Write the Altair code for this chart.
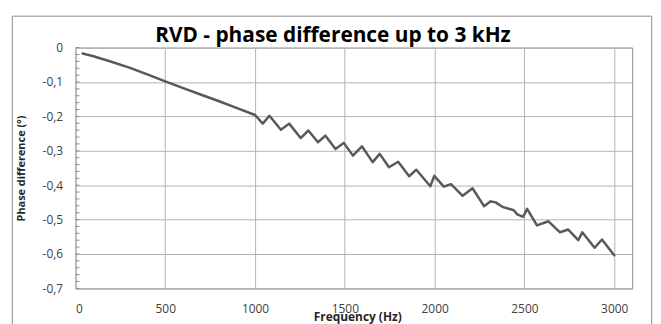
import altair as alt
import pandas as pd

# Frequency (Hz) and phase difference (degrees)
freq = [40, 100, 200, 300, 400, 500, 600, 700, 800, 900,
        1000, 1043, 1080, 1144, 1190, 1254, 1297, 1350, 1392, 1448,
        1494, 1545, 1595, 1655, 1694, 1746, 1797, 1858, 1898, 1976,
        1998, 2051, 2091, 2156, 2211, 2275, 2312, 2340, 2377, 2441,
        2460, 2493, 2515, 2570, 2634, 2698, 2744, 2800, 2822, 2891,
        2932, 3000]
phase = [-0.017, -0.025, -0.041, -0.058, -0.078, -0.098, -0.118, -0.137, -0.156, -0.176,
         -0.196, -0.221, -0.198, -0.239, -0.221, -0.263, -0.241, -0.275, -0.256, -0.295,
         -0.277, -0.314, -0.287, -0.333, -0.309, -0.348, -0.332, -0.374, -0.355, -0.403,
         -0.373, -0.404, -0.397, -0.431, -0.409, -0.461, -0.447, -0.450, -0.463, -0.473,
         -0.485, -0.492, -0.469, -0.517, -0.505, -0.537, -0.529, -0.560, -0.537, -0.582,
         -0.558, -0.604]

x_ticks = [0, 500, 1000, 1500, 2000, 2500, 3000]
y_ticks = [0, -0.1, -0.2, -0.3, -0.4, -0.5, -0.6, -0.7]
y_minor = [round(-0.02 * i, 2) for i in range(36)]

W, H = 561, 242.6
FONT = "Open Sans"
GRID = "#b3b3b3"
FRAME = "#8c8c8c"

df = pd.DataFrame({"freq": freq, "phase": phase})
dminor = pd.DataFrame({"v": y_minor})
dummy = alt.Data(values=[{}])

y_scale = alt.Scale(domain=[-0.7, 0], nice=False, zero=False)
y_axis = alt.Axis(
    values=y_ticks, labelOverlap=False,
    grid=True, gridColor=GRID, ticks=False, tickSize=0, domain=False,
    labelFont=FONT, labelFontSize=12, labelColor="#404040", labelPadding=13,
    labelExpr="datum.value == 0 ? '0' : '-0,' + round(-datum.value * 10)",
    title="Phase difference (°)", titleFont=FONT, titleFontSize=11, titleFontWeight="bold",
    titleColor="#262626", titleX=-54, titleY=H / 2, titleAngle=270,
    titleBaseline="middle", titleAlign="center",
)

x_enc = alt.X(
    "freq:Q",
    scale=alt.Scale(domain=[0, 3100], nice=False, zero=False),
    axis=alt.Axis(
        values=x_ticks, format="d", labelOverlap=False,
        grid=True, gridColor=GRID, ticks=False, tickSize=0, domain=False,
        labelFont=FONT, labelFontSize=12, labelColor="#404040",
        labelBaseline="middle", labelPadding=20.7,
        title="Frequency (Hz)", titleFont=FONT, titleFontSize=12, titleFontWeight="bold",
        titleColor="#262626", titleX=284, titleY=23, titleBaseline="top", titleAlign="center",
    ),
)

line = alt.Chart(df).mark_line(
    color="#595959", strokeWidth=2.5, interpolate="linear",
    strokeJoin="round", strokeCap="round",
).encode(x=x_enc, y=alt.Y("phase:Q", scale=y_scale, axis=y_axis))

minor = alt.Chart(dminor).mark_rule(color=FRAME, strokeWidth=1).encode(
    y=alt.Y("v:Q", scale=y_scale, axis=y_axis), x=alt.value(0), x2=alt.value(4)
)

border_left = alt.Chart(dummy).mark_rule(color=FRAME, strokeWidth=1).encode(
    x=alt.value(-63.7), y=alt.value(-31.7), y2=alt.value(H + 60)
)
border_top = alt.Chart(dummy).mark_rule(color=FRAME, strokeWidth=1).encode(
    x=alt.value(-63.7), x2=alt.value(580.7), y=alt.value(-31.7)
)
border_right = alt.Chart(dummy).mark_rule(color=FRAME, strokeWidth=1).encode(
    x=alt.value(580.7), y=alt.value(-31.7), y2=alt.value(H + 60)
)

chart = alt.layer(border_left, border_top, border_right, line, minor).properties(
    width=W, height=H,
    padding={"left": 68, "top": 38.7, "right": 21, "bottom": 35},
    autosize=alt.AutoSizeParams(type="none"),
    title=alt.TitleParams(
        "RVD - phase difference up to 3 kHz", font=FONT, fontSize=21, fontWeight="bold",
        color="#000000", anchor="middle", dx=-21, dy=50, offset=2, baseline="alphabetic",
    ),
).configure_view(stroke=FRAME, strokeWidth=1)

chart.save("out.html", embed_options={"renderer": "svg", "actions": False})
